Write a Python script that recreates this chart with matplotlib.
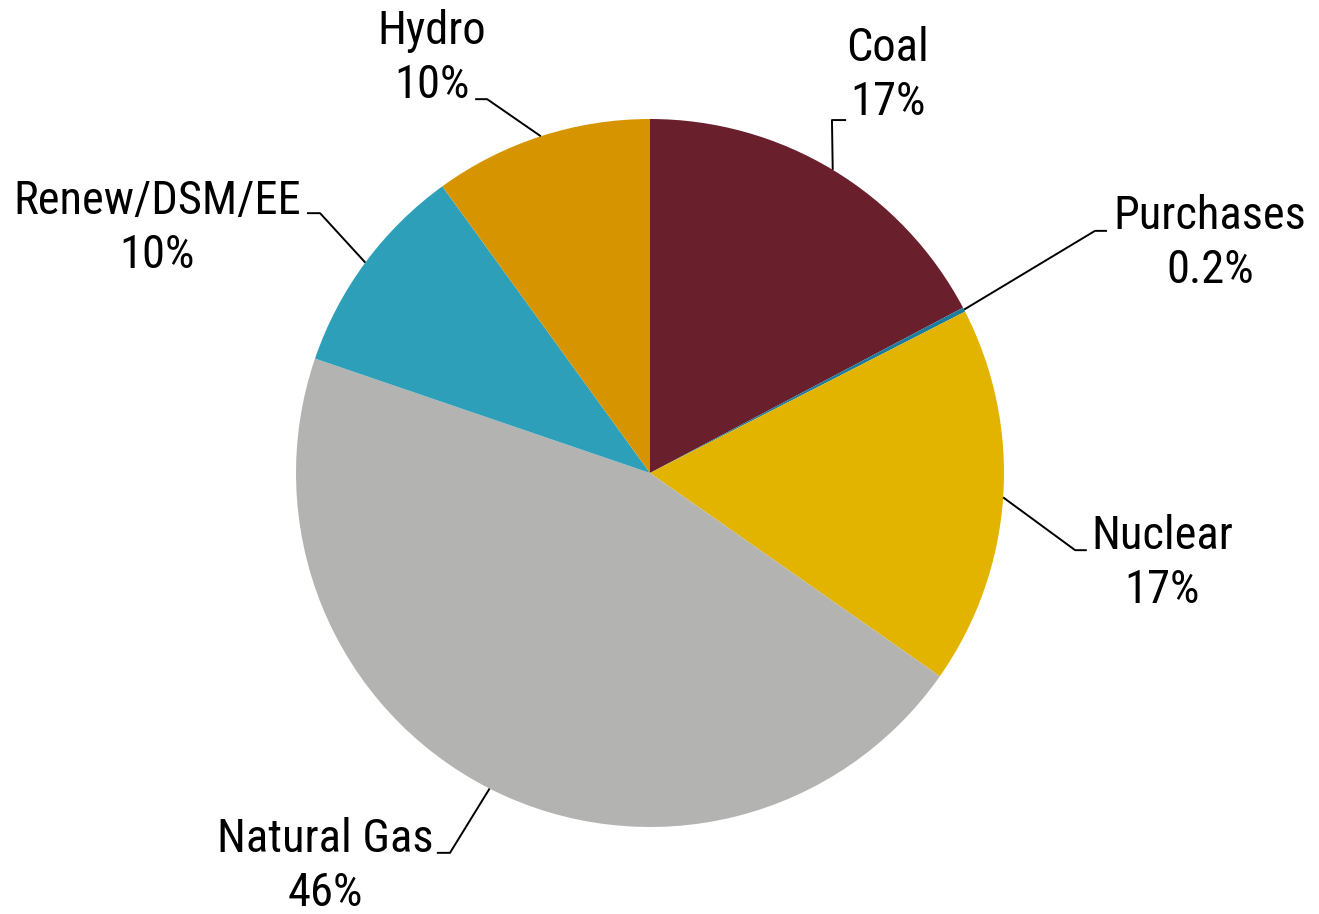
import numpy as np
import matplotlib.pyplot as plt

sources = ['Coal', 'Purchases', 'Nuclear', 'Natural Gas', 'Renew/DSM/EE', 'Hydro']
shares = [17.3, 0.2, 17.3, 45.6, 9.8, 10.0]
pct_labels = ['17%', '0.2%', '17%', '46%', '10%', '10%']
colors = ['#6a1f2c', '#1b7c9e', '#e2b400', '#b3b3b2', '#2e9fb8', '#d69500']

# elbow of leader line, end of short horizontal tick, text centre (data units, pie radius 1)
elbows = [(0.514, 0.997), (1.257, 0.684), (1.201, -0.218), (-0.565, -1.073), (-0.932, 0.734), (-0.460, 1.056)]
tick_ends = [(0.554, 0.997), (1.291, 0.684), (1.234, -0.218), (-0.602, -1.073), (-0.969, 0.734), (-0.494, 1.056)]
text_pos = [(0.672, 1.124), (1.582, 0.650), (1.446, -0.254), (-0.918, -1.110), (-1.393, 0.692), (-0.616, 1.172)]

plt.rcParams['font.family'] = ['Roboto Condensed', 'Liberation Sans', 'DejaVu Sans']

fig = plt.figure(figsize=(13.19, 9.14), dpi=100)
ax = fig.add_axes([0, 0, 1, 1])
wedges, _ = ax.pie(shares, colors=colors, startangle=90, counterclock=False,
                   radius=1, center=(0, 0), wedgeprops=dict(linewidth=0))
ax.set_xlim(-650 / 354, (1319 - 650) / 354)
ax.set_ylim((473 - 914) / 354, 473 / 354)
ax.set_aspect('auto')
ax.axis('off')

for w, name, pct, el, te, tp in zip(wedges, sources, pct_labels, elbows, tick_ends, text_pos):
    mid = np.deg2rad((w.theta1 + w.theta2) / 2)
    x0, y0 = np.cos(mid), np.sin(mid)
    ax.plot([x0, el[0], te[0]], [y0, el[1], te[1]], color='black', lw=1.4, solid_capstyle='butt')
    ax.text(tp[0], tp[1], f'{name}\n{pct}', ha='center', va='center', fontsize=33.5,
            linespacing=1.3, color='black')

fig.savefig('out.png', dpi=100)
